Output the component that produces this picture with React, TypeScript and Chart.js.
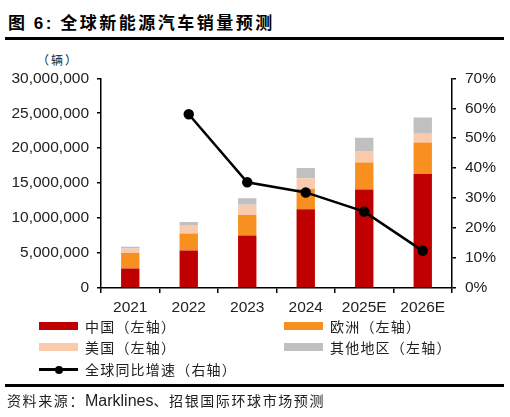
import { useEffect, useRef } from 'react'
import Chart from 'chart.js/auto'

const years = ['2021', '2022', '2023', '2024', '2025E', '2026E']
const chinaSales = [2800000, 5350000, 7500000, 11250000, 14100000, 16300000]
const europeSales = [2200000, 2450000, 2950000, 2900000, 3850000, 4500000]
const usSales = [650000, 1100000, 1450000, 1550000, 1650000, 1250000]
const otherSales = [250000, 550000, 950000, 1450000, 1900000, 2350000]
const globalGrowth = [null, 58.0, 35.3, 31.9, 25.5, 12.4]

const leftTicks = { min: 0, max: 30000000, step: 5000000 }
const rightTicks = { min: 0, max: 70, step: 10 }

const colors = {
  china: '#C00000',
  europe: '#F7901E',
  us: '#F9CBAC',
  other: '#C0C0C0',
  line: '#000000',
}

const tickFont = { family: '"Liberation Sans", Arial, sans-serif', size: 15.5 }
const cjk = '"Noto Sans CJK SC", "Liberation Sans", sans-serif'

function formatThousands(value: number) {
  return value.toLocaleString('en-US')
}

function SalesChart() {
  const canvasRef = useRef<HTMLCanvasElement | null>(null)

  useEffect(() => {
    if (!canvasRef.current) return undefined

    const barBase = {
      type: 'bar' as const,
      yAxisID: 'y',
      stack: 'sales',
      order: 1,
      barPercentage: 0.314,
      categoryPercentage: 1,
      borderWidth: 0,
    }

    const chart = new Chart(canvasRef.current, {
      type: 'bar',
      data: {
        labels: years,
        datasets: [
          { ...barBase, label: '中国（左轴）', data: chinaSales, backgroundColor: colors.china },
          { ...barBase, label: '欧洲（左轴）', data: europeSales, backgroundColor: colors.europe },
          { ...barBase, label: '美国（左轴）', data: usSales, backgroundColor: colors.us },
          { ...barBase, label: '其他地区（左轴）', data: otherSales, backgroundColor: colors.other },
          {
            type: 'line',
            label: '全球同比增速（右轴）',
            data: globalGrowth,
            yAxisID: 'y1',
            order: 0,
            borderColor: colors.line,
            backgroundColor: colors.line,
            borderWidth: 2.5,
            pointRadius: 4,
            pointBackgroundColor: colors.line,
            pointBorderColor: colors.line,
            tension: 0,
            spanGaps: false,
          },
        ],
      },
      options: {
        responsive: true,
        maintainAspectRatio: false,
        animation: false,
        layout: { padding: { top: 16, left: 0, right: 0, bottom: 0 } },
        plugins: {
          legend: { display: false },
          tooltip: { enabled: false },
        },
        scales: {
          x: {
            stacked: true,
            afterFit: (scale) => {
              scale.height = 32
            },
            border: { color: '#000', width: 1.5 },
            grid: {
              display: true,
              offset: true,
              drawOnChartArea: false,
              drawTicks: true,
              tickLength: 5,
              color: '#000',
              lineWidth: 1.5,
            },
            ticks: { font: tickFont, color: '#222', padding: 5 },
          },
          y: {
            stacked: true,
            position: 'left',
            min: leftTicks.min,
            max: leftTicks.max,
            afterFit: (scale) => {
              scale.width = 101
            },
            border: { color: '#000', width: 1.5 },
            grid: {
              display: true,
              drawOnChartArea: false,
              drawTicks: true,
              tickLength: 4,
              color: '#000',
              lineWidth: 1.5,
            },
            ticks: {
              stepSize: leftTicks.step,
              font: tickFont,
              color: '#222',
              padding: 8,
              callback: (value) => formatThousands(Number(value)),
            },
          },
          y1: {
            position: 'right',
            min: rightTicks.min,
            max: rightTicks.max,
            afterFit: (scale) => {
              scale.width = 58
            },
            border: { color: '#000', width: 1.5 },
            grid: {
              display: true,
              drawOnChartArea: false,
              drawTicks: true,
              tickLength: 4,
              color: '#000',
              lineWidth: 1.5,
            },
            ticks: {
              stepSize: rightTicks.step,
              font: tickFont,
              color: '#222',
              padding: 9,
              callback: (value) => `${value}%`,
            },
          },
        },
      },
    })

    return () => {
      chart.destroy()
    }
  }, [])

  return (
    <div style={{ position: 'absolute', left: 0, top: 60, width: 510, height: 260 }}>
      <canvas ref={canvasRef} />
    </div>
  )
}

function LegendItem({ x, y, color, text, line }: { x: number; y: number; color: string; text: string; line?: boolean }) {
  return (
    <div style={{ position: 'absolute', left: x, top: y - 10, height: 20, display: 'flex', alignItems: 'center' }}>
      {line ? (
        <div style={{ position: 'relative', width: 39, height: 8 }}>
          <div style={{ position: 'absolute', left: 0, top: 3, width: 39, height: 2.5, background: color }} />
          <div style={{ position: 'absolute', left: 15.5, top: 0.5, width: 8, height: 8, borderRadius: 4, background: color }} />
        </div>
      ) : (
        <div style={{ width: 39, height: 8, background: color }} />
      )}
      <span style={{ marginLeft: 7, fontFamily: cjk, fontSize: 14, letterSpacing: 1.2, color: '#222', whiteSpace: 'nowrap' }}>{text}</span>
    </div>
  )
}

export default function App() {
  return (
    <div style={{ position: 'absolute', left: 0, top: 0, width: 510, height: 417, background: '#fff', overflow: 'hidden' }}>
      <div style={{ position: 'absolute', left: 8, top: 10, fontFamily: cjk, fontSize: 17, fontWeight: 700, color: '#000', letterSpacing: 2.5, whiteSpace: 'nowrap', lineHeight: '24px' }}>
        图 <span style={{ fontFamily: '"Liberation Sans", Arial, sans-serif' }}>6:</span> 全球新能源汽车销量预测
      </div>
      <div style={{ position: 'absolute', left: 5, top: 37, width: 499, height: 2.5, background: '#000' }} />
      <div style={{ position: 'absolute', left: 37, top: 51, fontFamily: cjk, fontSize: 12, letterSpacing: 2, color: '#222', lineHeight: '18px' }}>（辆）</div>
      <SalesChart />
      <LegendItem x={39} y={326} color={colors.china} text="中国（左轴）" />
      <LegendItem x={284} y={326} color={colors.europe} text="欧洲（左轴）" />
      <LegendItem x={39} y={347} color={colors.us} text="美国（左轴）" />
      <LegendItem x={284} y={347} color={colors.other} text="其他地区（左轴）" />
      <LegendItem x={39} y={369} color={colors.line} text="全球同比增速（右轴）" line />
      <div style={{ position: 'absolute', left: 5, top: 384, width: 499, height: 2.5, background: '#000' }} />
      <div style={{ position: 'absolute', left: 7, top: 391, fontFamily: cjk, fontSize: 14, letterSpacing: 1.6, color: '#222', whiteSpace: 'nowrap', lineHeight: '18px' }}>
        资料来源：<span style={{ fontFamily: '"Liberation Sans", Arial, sans-serif', fontSize: 16, letterSpacing: 0 }}>Marklines</span>、招银国际环球市场预测
      </div>
    </div>
  )
}
